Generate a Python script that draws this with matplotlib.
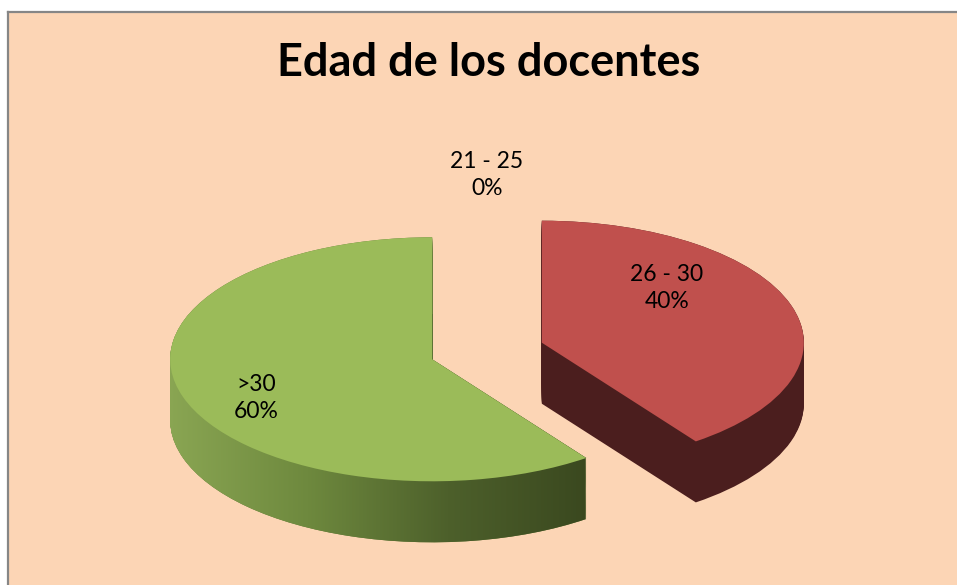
import numpy as np
import matplotlib
matplotlib.use("Agg")
import matplotlib.pyplot as plt
from matplotlib.patches import Rectangle, PathPatch
from matplotlib.path import Path
from matplotlib.lines import Line2D
from matplotlib.colors import LinearSegmentedColormap

# ---- data ----
categories = ["21 - 25", "26 - 30", ">30"]
values = [0, 40, 60]
percent_labels = ["0%", "40%", "60%"]
title = "Edad de los docentes"

# ---- style ----
top_colors = ["#4F81BD", "#C0504D", "#9BBB59"]
side_colors = ["#2A4466", "#4B1E1E", "#5E7434"]
bg = "#FCD5B5"
explode = [0.22, 0.22, 0.22]
depth = 0.50
nlayers = 60

W, H = 957, 585
OX, OY, SX, SY = 487, 351, 262, 122   # pixel origin and pixels per data unit

fig = plt.figure(figsize=(W / 100, H / 100), dpi=100, facecolor="white")

# chart area background and border
fig.patches.append(Rectangle((8 / W, 0), 1 - 8 / W, 1 - 12 / H, transform=fig.transFigure,
                             facecolor=bg, edgecolor="none", zorder=-10))
fig.lines.append(Line2D([8 / W, 1], [1 - 12 / H, 1 - 12 / H], transform=fig.transFigure,
                        color="#868686", lw=1.6, zorder=-5))
fig.lines.append(Line2D([8 / W, 8 / W], [0, 1 - 12 / H], transform=fig.transFigure,
                        color="#868686", lw=1.6, zorder=-5))

ax = fig.add_axes([0, 0, 1, 1], zorder=1)
ax.set_facecolor("none")
ax.axis("off")

# side walls: stacked pies
green_paths = []
for k in range(nlayers):
    cy = -depth + depth * k / (nlayers - 1)
    wedges, _ = ax.pie(values, explode=explode, startangle=90, counterclock=False,
                       colors=side_colors, center=(0, cy),
                       wedgeprops=dict(linewidth=0, antialiased=True))
    for w in wedges:
        w.set_zorder(1)
    green_paths.append(wedges[2].get_path())

# gradient on the green side
clip = PathPatch(Path.make_compound_path(*green_paths), transform=ax.transData,
                 facecolor="none", edgecolor="none")
cmap = LinearSegmentedColormap.from_list("g", ["#8AA653", "#6E893E", "#4D602B", "#3A481F"])
grad = np.linspace(0, 1, 256).reshape(1, -1)
im = ax.imshow(grad, extent=[-1.22, 0.39, -1.8, 0.3], cmap=cmap, aspect="auto",
               zorder=1.5, interpolation="bilinear")
im.set_clip_path(clip)

# top faces
wedges, _ = ax.pie(values, explode=explode, startangle=90, counterclock=False,
                   colors=top_colors, center=(0, 0),
                   wedgeprops=dict(linewidth=0, antialiased=True))
for w in wedges:
    w.set_zorder(2)

# data labels
label_pos = [(0.0, 1.443), (0.687, 0.516), (-0.882, -0.385)]
for (x, y), c, p in zip(label_pos, categories, percent_labels):
    ax.text(x, y, f"{c}\n{p}", ha="center", va="center", fontsize=16.5,
            family=["Lato", "DejaVu Sans"], color="black", linespacing=1.35, zorder=3)

ax.set_aspect("auto")
ax.set_xlim(-OX / SX, (W - OX) / SX)
ax.set_ylim((OY - H) / SY, OY / SY)

fig.text(489 / W, 1 - 63 / H, title, ha="center", va="center", fontsize=32.5,
         fontweight="bold", family=["Lato", "DejaVu Sans"], color="black", zorder=5)

fig.savefig("out.png", dpi=100, facecolor="white")
